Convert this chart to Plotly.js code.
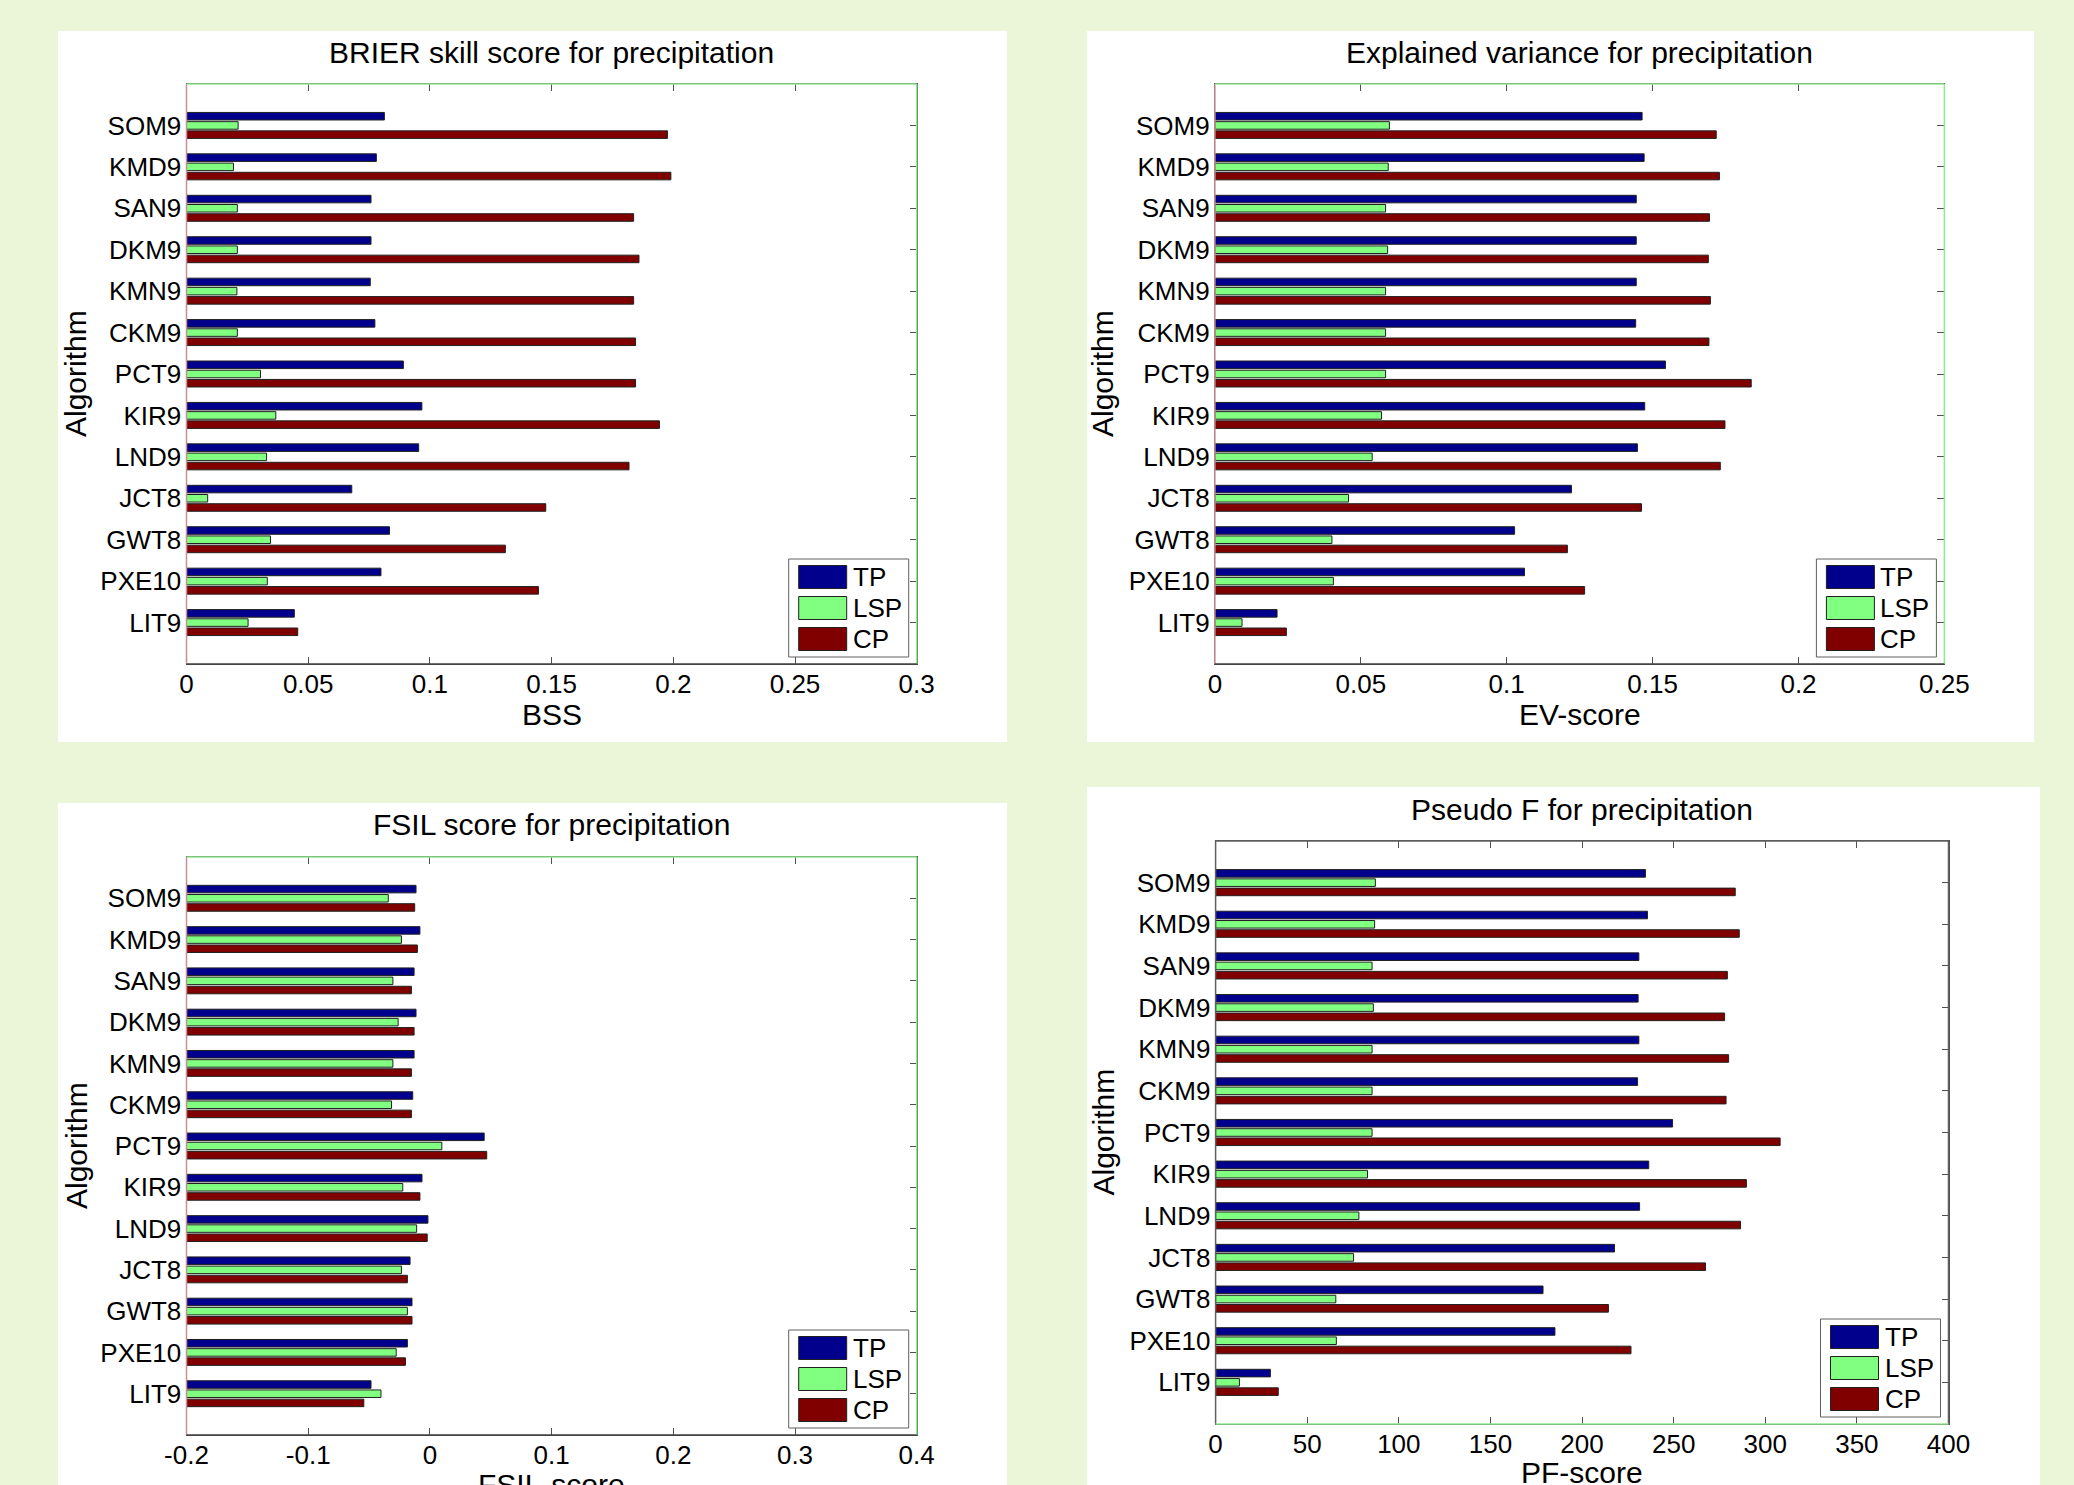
<!DOCTYPE html>
<html><head><meta charset="utf-8">
<script src="https://cdn.plot.ly/plotly-3.0.1.min.js"></script>
<style>html,body{margin:0;padding:0;background:#EBF5D7;} #chart{width:2074px;height:1485px;}</style>
</head><body><div id="chart"></div>
<script>
// ---------------- data ----------------
const algorithms = ['SOM9','KMD9','SAN9','DKM9','KMN9','CKM9','PCT9','KIR9','LND9','JCT8','GWT8','PXE10','LIT9'];
const seriesNames = ['TP','LSP','CP'];

const bssTP  = [0.0813,0.0780,0.0758,0.0758,0.0755,0.0774,0.0891,0.0967,0.0954,0.0679,0.0834,0.0799,0.0443];
const bssLSP = [0.0212,0.0193,0.0209,0.0209,0.0207,0.0209,0.0304,0.0367,0.0329,0.0087,0.0345,0.0332,0.0253];
const bssCP  = [0.1976,0.1990,0.1837,0.1859,0.1837,0.1845,0.1845,0.1943,0.1818,0.1476,0.1310,0.1446,0.0457];

const evTP  = [0.1464,0.1471,0.1444,0.1444,0.1444,0.1442,0.1544,0.1473,0.1448,0.1222,0.1027,0.1061,0.0213];
const evLSP = [0.0598,0.0594,0.0585,0.0592,0.0585,0.0585,0.0585,0.0571,0.0539,0.0458,0.0401,0.0406,0.0093];
const evCP  = [0.1718,0.1729,0.1695,0.1691,0.1698,0.1693,0.1838,0.1748,0.1732,0.1462,0.1208,0.1267,0.0245];

const fsilTP  = [-0.0114,-0.0082,-0.0130,-0.0114,-0.0130,-0.0141,0.0446,-0.0065,-0.0016,-0.0163,-0.0147,-0.0185,-0.0484];
const fsilLSP = [-0.0342,-0.0234,-0.0304,-0.0261,-0.0304,-0.0315,0.0098,-0.0223,-0.0109,-0.0234,-0.0185,-0.0277,-0.0402];
const fsilCP  = [-0.0125,-0.0103,-0.0152,-0.0130,-0.0152,-0.0152,0.0467,-0.0082,-0.0022,-0.0185,-0.0147,-0.0201,-0.0543];
const FSIL_BASE = -0.2;

const pfTP  = [234.6,235.7,231.0,230.6,231.0,230.3,249.4,236.4,231.4,217.7,178.7,185.2,29.9];
const pfLSP = [87.2,86.8,85.4,86.1,85.4,85.4,85.4,82.9,78.2,75.3,65.6,65.9,13.0];
const pfCP  = [283.6,285.8,279.3,277.8,280.0,278.6,308.1,289.7,286.5,267.4,214.4,226.7,34.2];

const fsilTickVals = [-0.2,-0.1,0,0.1,0.2,0.3,0.4];
const fsilTickText = ['-0.2','-0.1','0','0.1','0.2','0.3','0.4'];

// ---------------- styling / geometry ----------------
const COLORS = {TP:'#00008C', LSP:'#80FF80', CP:'#800000'};
const FONT = '"Liberation Sans", Arial, Helvetica, sans-serif';
const W = 2074, H = 1485;
const fx = p => p / W;
const fy = p => 1 - p / H;

const panels = [
  {title:'BRIER skill score for precipitation', xlabel:'BSS', series:[bssTP,bssLSP,bssCP],
   plot:[186.5,84,916.7,664], card:[58,31,1007,742], titleY:53, xlabY:714, ylabX:76,
   range:[0,0.3], dtick:0.05, edges:['#c89090','#90e890','#90e890','#404040']},
  {title:'Explained variance for precipitation', xlabel:'EV-score', series:[evTP,evLSP,evCP],
   plot:[1214.9,84,1944.4,664], card:[1087,31,2034,742], titleY:53, xlabY:714, ylabX:1103,
   range:[0,0.25], dtick:0.05, edges:['#c89090','#90e890','#90e890','#404040']},
  {title:'FSIL score for precipitation', xlabel:'FSIL-score', series:[fsilTP,fsilLSP,fsilCP], base:FSIL_BASE,
   plot:[186.5,857,916.7,1435], card:[58,803,1007,1500], titleY:824.5, xlabY:1484, ylabX:76,
   range:[-0.2,0.4], tickvals:fsilTickVals, ticktext:fsilTickText, edges:['#c89090','#90e890','#90e890','#404040']},
  {title:'Pseudo F for precipitation', xlabel:'PF-score', series:[pfTP,pfLSP,pfCP],
   plot:[1215.6,841,1948.5,1424], card:[1087,787,2040,1500], titleY:810, xlabY:1472, ylabX:1103,
   range:[0,400], dtick:50, edges:['#606060','#606060','#606060','#90e890']}
];

const data = [];
const layout = {
  width: W, height: H,
  margin:{l:0,r:0,t:0,b:0},
  paper_bgcolor:'#EBF5D7', plot_bgcolor:'#FFFFFF',
  font:{family:FONT, size:26, color:'#000'},
  barmode:'group', bargap:0.333, bargroupgap:0.18,
  showlegend:false,
  shapes:[], annotations:[]
};

panels.forEach((p, i) => {
  const n = i === 0 ? '' : String(i + 1);
  const xa = 'x' + n, ya = 'y' + n;
  p.series.forEach((vals, k) => {
    const name = seriesNames[k];
    const tr = {
      type:'bar', orientation:'h', name:name, y:algorithms,
      x: p.base !== undefined ? vals.map(v => v - p.base) : vals,
      xaxis:xa, yaxis:ya,
      marker:{color:COLORS[name], line:{color:'#202020', width:1}},
      showlegend:false, hoverinfo:'x+y+name'
    };
    if (p.base !== undefined) tr.base = p.base;
    data.push(tr);
  });
  const [L,T,R,B] = p.plot;
  const xaxis = {
    domain:[fx(L), fx(R)], anchor:ya, range:p.range, autorange:false,
    showgrid:false, zeroline:false, showline:true, linecolor:'#505050', linewidth:1,
    ticks:'inside', ticklen:7, tickwidth:1, tickcolor:'#505050', mirror:'ticks',
    tickfont:{family:FONT, size:26, color:'#000'}, layer:'below traces',
    ticklabelstandoff:-3, fixedrange:true
  };
  if (p.tickvals) { xaxis.tickmode = 'array'; xaxis.tickvals = p.tickvals; xaxis.ticktext = p.ticktext; }
  else { xaxis.tick0 = 0; xaxis.dtick = p.dtick; }
  const yaxis = {
    domain:[fy(B), fy(T)], anchor:xa, type:'category',
    categoryorder:'array', categoryarray:algorithms,
    range:[13,-1], autorange:false,
    showgrid:false, zeroline:false, showline:true, linecolor:'#505050', linewidth:1,
    ticks:'inside', ticklen:7, tickwidth:1, tickcolor:'#505050', mirror:'ticks',
    tickfont:{family:FONT, size:26, color:'#000'}, layer:'below traces',
    ticklabelstandoff:-1, fixedrange:true
  };
  layout['xaxis' + n] = xaxis;
  layout['yaxis' + n] = yaxis;

  // white card
  const [cL,cT,cR,cB] = p.card;
  layout.shapes.push({type:'rect', xref:'paper', yref:'paper', x0:fx(cL), x1:fx(cR), y0:fy(cB), y1:fy(cT),
    fillcolor:'#FFFFFF', line:{width:0}, layer:'below'});
  // box edges (left, top, right, bottom)
  const e = p.edges;
  const seg = (x0,y0,x1,y1,c) => layout.shapes.push({type:'line', xref:'paper', yref:'paper',
    x0:fx(x0), y0:fy(y0), x1:fx(x1), y1:fy(y1), line:{color:c, width:1.5}, layer:'above'});
  seg(L,T,L,B,e[0]); seg(L,T,R,T,e[1]); seg(R,T,R,B,e[2]); seg(L,B,R,B,e[3]);

  // title
  layout.annotations.push({text:p.title, xref:'paper', yref:'paper', x:fx((L+R)/2), y:fy(p.titleY),
    xanchor:'center', yanchor:'middle', showarrow:false, font:{family:FONT, size:30, color:'#000'}});
  // axis labels
  layout.annotations.push({text:p.xlabel, xref:'paper', yref:'paper', x:fx((L+R)/2), y:fy(p.xlabY),
    xanchor:'center', yanchor:'middle', showarrow:false, font:{family:FONT, size:30, color:'#000'}});
  layout.annotations.push({text:'Algorithm', xref:'paper', yref:'paper', x:fx(p.ylabX), y:fy((T+B)/2),
    xanchor:'center', yanchor:'middle', textangle:-90, showarrow:false, font:{family:FONT, size:30, color:'#000'}});

  // legend box (bottom-right inside the axes)
  const lbR = R - 8, lbB = B - 7, lbL = lbR - 120, lbT = lbB - 98;
  layout.shapes.push({type:'rect', xref:'paper', yref:'paper', x0:fx(lbL), x1:fx(lbR), y0:fy(lbB), y1:fy(lbT),
    fillcolor:'#FFFFFF', line:{color:'#606060', width:1}, layer:'above'});
  seriesNames.forEach((name, k) => {
    const cy = lbT + 18 + k * 31;
    layout.shapes.push({type:'rect', xref:'paper', yref:'paper', x0:fx(lbL+10), x1:fx(lbL+58),
      y0:fy(cy+11.5), y1:fy(cy-11.5), fillcolor:COLORS[name], line:{color:'#202020', width:1}, layer:'above'});
    layout.annotations.push({text:name, xref:'paper', yref:'paper', x:fx(lbL+62), y:fy(cy),
      xanchor:'left', yanchor:'middle', showarrow:false, font:{family:FONT, size:26, color:'#000'}});
  });
});

Plotly.newPlot('chart', data, layout, {staticPlot:true, displayModeBar:false});
</script>
</body></html>
